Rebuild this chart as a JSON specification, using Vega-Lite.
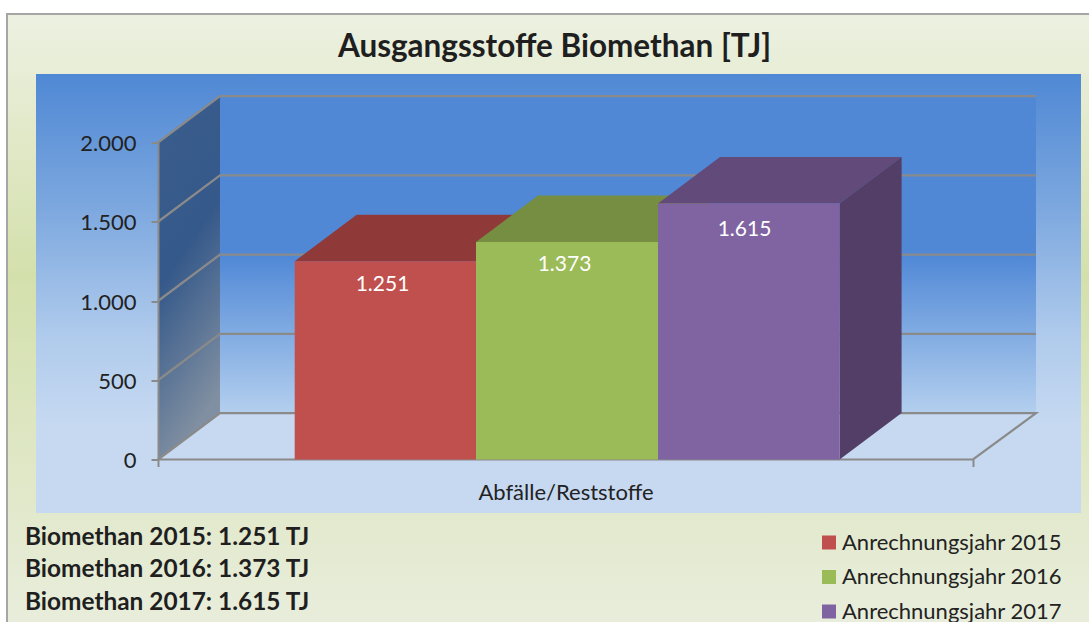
{
"$schema":"https://vega.github.io/schema/vega-lite/v6.json",
"width":815,"height":317,
"autosize":{"type":"none"},
"padding":{"left":158,"top":142.5,"right":116,"bottom":162.5},
"background":"white",
"title":{"text":"Ausgangsstoffe Biomethan [TJ]","font":"Lato","fontSize":31.5,"fontWeight":"bold","color":"#1F1F1F","anchor":"middle","dx":-11,"offset":-51},
"config":{"view":{"stroke":null},"font":"Lato"},
"datasets":{
"bars":[
{"series":"Anrechnungsjahr 2015","value":1251,"x0":136.7,"x1":318,"lx":224.5,"ly":1104,"label":"1.251"},
{"series":"Anrechnungsjahr 2016","value":1373,"x0":318,"x1":500,"lx":406.5,"ly":1230,"label":"1.373"},
{"series":"Anrechnungsjahr 2017","value":1615,"x0":500,"x1":681.6,"lx":586.5,"ly":1451,"label":"1.615"}
],
"tops":[
{"s":"2015","y":1251,"xl":136.7,"xr":318},{"s":"2015","y":1544,"xl":198.7,"xr":380},
{"s":"2016","y":1373,"xl":318,"xr":500},{"s":"2016","y":1666,"xl":380,"xr":562},
{"s":"2017","y":1615,"xl":500,"xr":681.6},{"s":"2017","y":1908,"xl":562,"xr":743.6}
]
},
"layer":[
{"data":{"values":[{"x":-151,"x2":945,"y":2811,"y2":-1100}]},
 "mark":{"type":"rect","stroke":"#A6A6A6","strokeWidth":2,"fill":{"gradient":"linear","x1":0,"y1":0,"x2":0,"y2":1,"stops":[{"offset":0,"color":"#EDF1E2"},{"offset":0.42,"color":"#D4E0AC"},{"offset":1,"color":"#E9EEDD"}]}},
 "encoding":{
  "x":{"field":"x","type":"quantitative","scale":{"domain":[0,815],"nice":false,"zero":false},"axis":{"values":[0,815],"labels":false,"domain":false,"grid":false,"ticks":true,"tickSize":7,"tickColor":"#8A8A8A","tickWidth":2,"title":"Abfälle/Reststoffe","titleFont":"Lato","titleFontSize":22,"titleFontWeight":"normal","titleColor":"#222222","titlePadding":15,"zindex":1}},
  "x2":{"field":"x2"},
  "y":{"field":"y","type":"quantitative","scale":{"domain":[0,2000],"nice":false,"zero":false},"axis":{"values":[0,500,1000,1500,2000],"labelExpr":"replace(format(datum.value,','),',','.')","labelFont":"Lato","labelFontSize":22,"labelColor":"#222222","labelPadding":15,"labelOffset":1,"domain":true,"domainColor":"#8A8A8A","domainWidth":2,"grid":false,"ticks":true,"tickSize":7,"tickColor":"#8A8A8A","tickWidth":2,"title":null,"zindex":1}},
  "y2":{"field":"y2"}}},
{"data":{"values":[{"x":-122,"x2":923,"y":2432,"y2":-337.5}]},
 "mark":{"type":"rect","fill":{"gradient":"linear","x1":0,"y1":0,"x2":0,"y2":1,"stops":[{"offset":0,"color":"#4F88D4"},{"offset":0.29,"color":"#7AA6DE"},{"offset":0.6,"color":"#B0CBEC"},{"offset":0.8,"color":"#C6D9F1"},{"offset":1,"color":"#C6D9F1"}]}},
 "encoding":{"x":{"field":"x","type":"quantitative"},"x2":{"field":"x2"},"y":{"field":"y","type":"quantitative"},"y2":{"field":"y2"}}},
{"data":{"values":[{"x":62,"x2":878,"y":2293,"y2":293}]},
 "mark":{"type":"rect","fill":{"gradient":"linear","x1":0,"y1":0,"x2":0,"y2":1,"stops":[{"offset":0,"color":"#5088D6"},{"offset":0.5,"color":"#5088D6"},{"offset":1,"color":"#B3CFEE"}]}},
 "encoding":{"x":{"field":"x","type":"quantitative"},"x2":{"field":"x2"},"y":{"field":"y","type":"quantitative"},"y2":{"field":"y2"}}},
{"data":{"values":[{"x":0,"y":0,"y2":2000},{"x":62,"y":293,"y2":2293}]},
 "mark":{"type":"area","orient":"vertical","fill":{"gradient":"linear","x1":0,"y1":0,"x2":0.25,"y2":1,"stops":[{"offset":0,"color":"#3A5D8C"},{"offset":0.5,"color":"#35598A"},{"offset":1,"color":"#808FA1"}]}},
 "encoding":{"x":{"field":"x","type":"quantitative"},"y":{"field":"y","type":"quantitative","stack":null},"y2":{"field":"y2"}}},
{"data":{"values":[{"y":0,"x":0,"x2":815},{"y":293,"x":62,"x2":878}]},
 "mark":{"type":"area","orient":"horizontal","color":"#C6D9F1"},
 "encoding":{"y":{"field":"y","type":"quantitative"},"x":{"field":"x","type":"quantitative","stack":null},"x2":{"field":"x2"}}},
{"data":{"values":[
{"v":"500","o":1,"x":0,"y":500},{"v":"500","o":2,"x":62,"y":793},{"v":"500","o":3,"x":878,"y":793},
{"v":"1000","o":1,"x":0,"y":1000},{"v":"1000","o":2,"x":62,"y":1293},{"v":"1000","o":3,"x":878,"y":1293},
{"v":"1500","o":1,"x":0,"y":1500},{"v":"1500","o":2,"x":62,"y":1793},{"v":"1500","o":3,"x":878,"y":1793},
{"v":"2000","o":1,"x":0,"y":2000},{"v":"2000","o":2,"x":62,"y":2293},{"v":"2000","o":3,"x":878,"y":2293},
{"v":"0","o":1,"x":0,"y":0},{"v":"0","o":2,"x":62,"y":293},{"v":"0","o":3,"x":878,"y":293},{"v":"0","o":4,"x":815,"y":0},{"v":"0","o":5,"x":0,"y":0}
]},
 "mark":{"type":"line","color":"#8A8A8A","strokeWidth":2.2},
 "encoding":{"x":{"field":"x","type":"quantitative"},"y":{"field":"y","type":"quantitative"},"detail":{"field":"v"},"order":{"field":"o","type":"quantitative"}}},
{"data":{"name":"tops"},"transform":[{"filter":"datum.s==='2015'"}],
 "mark":{"type":"area","orient":"horizontal","color":"#8F3A38"},
 "encoding":{"y":{"field":"y","type":"quantitative"},"x":{"field":"xl","type":"quantitative","stack":null},"x2":{"field":"xr"}}},
{"data":{"name":"tops"},"transform":[{"filter":"datum.s==='2016'"}],
 "mark":{"type":"area","orient":"horizontal","color":"#758E41"},
 "encoding":{"y":{"field":"y","type":"quantitative"},"x":{"field":"xl","type":"quantitative","stack":null},"x2":{"field":"xr"}}},
{"data":{"name":"tops"},"transform":[{"filter":"datum.s==='2017'"}],
 "mark":{"type":"area","orient":"horizontal","color":"#624B7A"},
 "encoding":{"y":{"field":"y","type":"quantitative"},"x":{"field":"xl","type":"quantitative","stack":null},"x2":{"field":"xr"}}},
{"data":{"values":[{"x":681.6,"y":1615,"y2":0},{"x":743.6,"y":1908,"y2":293}]},
 "mark":{"type":"area","orient":"vertical","color":"#523E66"},
 "encoding":{"x":{"field":"x","type":"quantitative"},"y":{"field":"y","type":"quantitative","stack":null},"y2":{"field":"y2"}}},
{"data":{"name":"bars"},
 "mark":{"type":"rect"},
 "encoding":{"x":{"field":"x0","type":"quantitative"},"x2":{"field":"x1"},"y":{"field":"value","type":"quantitative"},"y2":{"datum":0},
  "color":{"field":"series","type":"nominal","scale":{"domain":["Anrechnungsjahr 2015","Anrechnungsjahr 2016","Anrechnungsjahr 2017"],"range":["#C0504D","#9BBB59","#8064A2"]},
   "legend":{"title":null,"orient":"none","legendX":660,"legendY":389,"symbolType":"square","symbolSize":196,"symbolStrokeWidth":0,"labelFont":"Lato","labelFontSize":22,"labelColor":"#222222","labelLimit":400,"rowPadding":12.5,"labelOffset":2}}}},
{"data":{"name":"bars"},
 "mark":{"type":"text","color":"white","fontSize":21,"font":"Lato","align":"center","baseline":"middle"},
 "encoding":{"x":{"field":"lx","type":"quantitative"},"y":{"field":"ly","type":"quantitative"},"text":{"field":"label"}}},
{"data":{"values":[
{"t":"Biomethan 2015: 1.251 TJ","x":-133,"y":-498},
{"t":"Biomethan 2016: 1.373 TJ","x":-133,"y":-699},
{"t":"Biomethan 2017: 1.615 TJ","x":-133,"y":-906}]},
 "mark":{"type":"text","color":"#1F1F1F","fontSize":24.4,"font":"Lato","fontWeight":"bold","align":"left","baseline":"middle"},
 "encoding":{"x":{"field":"x","type":"quantitative"},"y":{"field":"y","type":"quantitative"},"text":{"field":"t"}}}
]
}
